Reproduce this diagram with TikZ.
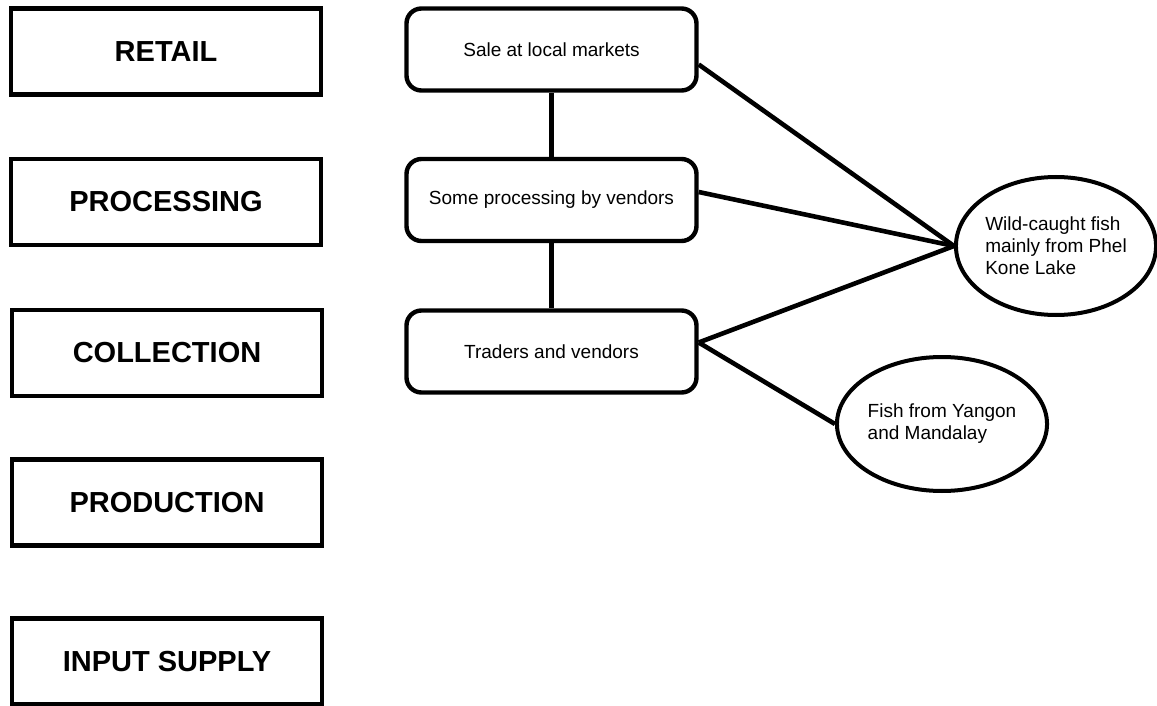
\documentclass[tikz,border=0pt]{standalone}
\usepackage{fontspec}
\setmainfont{Liberation Sans}
\usetikzlibrary{shapes.geometric}

\tikzset{
  stage/.style={draw, line width=4.6pt, minimum width=310pt, minimum height=86pt,
    inner sep=0pt, font=\fontsize{29}{34}\selectfont\bfseries},
  actor/.style={draw, line width=4.4pt, rounded corners=15pt, minimum width=290pt,
    minimum height=82pt, inner sep=0pt, font=\fontsize{19}{22}\selectfont},
  origin/.style={draw, ellipse, line width=4pt, inner sep=0pt, align=left,
    font=\fontsize{19}{22}\selectfont},
  link/.style={line width=4.6pt}
}

\begin{document}
\begin{tikzpicture}[x=1pt, y=-1pt]
    \useasboundingbox (0,0) rectangle (1157,706);

    % Value chain stages
    \node[stage] (retail) at (166,51.5) {RETAIL};
    \node[stage] (proc) at (166,202) {PROCESSING};
    \node[stage] (coll) at (167,353) {COLLECTION};
    \node[stage] (prod) at (167,502.5) {PRODUCTION};
    \node[stage] (input) at (167,661.5) {INPUT SUPPLY};

    % Actors
    \node[actor] (sale) at (551.5,49.5) {Sale at local markets};
    \node[actor] (vendproc) at (551.5,200) {Some processing by vendors};
    \node[actor] (traders) at (551.5,351.5) {Traders and vendors};

    % Sources of fish
    \node[origin, minimum width=200pt, minimum height=138pt] (wild) at (1056,246)
        {Wild-caught fish\\mainly from Phel\\Kone Lake};
    \node[origin, minimum width=206pt, minimum height=134pt] (cities) at (942,424)
        {Fish from Yangon\\and Mandalay};

    % Links
    \draw[link] (sale) -- (vendproc);
    \draw[link] (vendproc) -- (traders);
    \draw[link] ([yshift=-15pt]sale.east) -- (wild.west);
    \draw[link] ([yshift=8pt]vendproc.east) -- (wild.west);
    \draw[link] ([yshift=9pt]traders.east) -- (wild.west);
    \draw[link] ([yshift=9pt]traders.east) -- (cities.west);
\end{tikzpicture}
\end{document}
